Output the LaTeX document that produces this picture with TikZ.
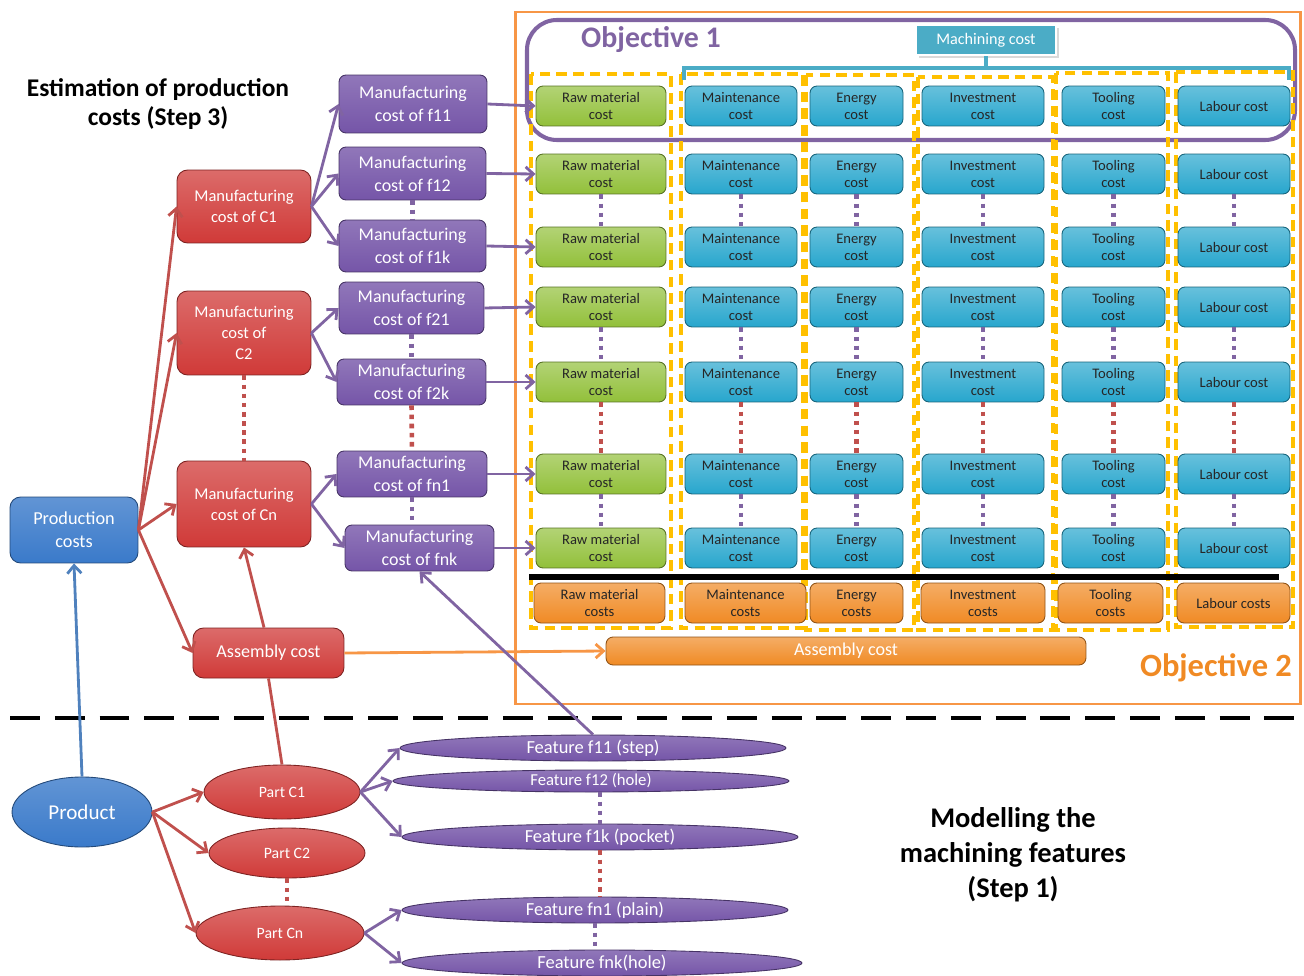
\documentclass[tikz,border=0pt]{standalone}
\usepackage{fontspec}
\setmainfont{Carlito}
\usetikzlibrary{shapes.geometric, arrows.meta}

\definecolor{cred}{HTML}{D03A38}
\definecolor{cpurple}{HTML}{7555A8}
\definecolor{cgreen}{HTML}{92C03A}
\definecolor{cteal}{HTML}{27A6CD}
\definecolor{corange}{HTML}{F08A24}
\definecolor{cblue}{HTML}{3A7ACA}
\definecolor{lred}{HTML}{C0504D}
\definecolor{lpurple}{HTML}{8064A2}
\definecolor{lblue}{HTML}{4F81BD}
\definecolor{lorange}{HTML}{F79646}
\definecolor{lyellow}{HTML}{FFC000}
\definecolor{lteal}{HTML}{4BACC6}

\tikzset{
  costbox/.style={draw, rounded corners=4pt, line width=0.5pt, align=center, inner sep=0pt},
  redbox/.style={costbox, rounded corners=6pt, draw=cred!60!black, top color=cred!75!white, bottom color=cred, text=white, font=\fontsize{9.4}{12}\selectfont},
  purplebox/.style={costbox, draw=cpurple!60!black, top color=cpurple!80!white, bottom color=cpurple, text=white, font=\fontsize{10.2}{13}\selectfont},
  bluebox/.style={costbox, rounded corners=6pt, draw=cblue!60!black, top color=cblue!80!white, bottom color=cblue, text=white, font=\fontsize{10.4}{13}\selectfont},
  gridbox/.style={costbox, minimum height=0.8cm, text=black!85, font=\fontsize{8.3}{9.8}\selectfont},
  greenbox/.style={gridbox, draw=cgreen!60!black, top color=cgreen!70!white, bottom color=cgreen},
  tealbox/.style={gridbox, draw=cteal!60!black, top color=cteal!70!white, bottom color=cteal},
  orangebox/.style={gridbox, draw=corange!60!black, top color=corange!70!white, bottom color=corange},
  oval/.style={ellipse, draw, line width=0.5pt, inner sep=0pt, text=white},
  redoval/.style={oval, draw=cred!60!black, top color=cred!75!white, bottom color=cred, font=\fontsize{9}{11}\selectfont},
  purpleoval/.style={oval, draw=cpurple!60!black, top color=cpurple!80!white, bottom color=cpurple, font=\fontsize{10.5}{12}\selectfont},
  arr/.style={-{Straight Barb[length=4.5pt,width=8pt]}, line width=1.6pt},
  vdots/.style={line width=2.6pt, dash pattern=on 2.6pt off 2.6pt},
  column/.style={draw=lyellow, line width=2.2pt, dash pattern=on 6pt off 3.5pt},
  heading/.style={align=center, font=\bfseries\fontsize{14.5}{17}\selectfont}
}

\begin{document}
\begin{tikzpicture}[x=0.02cm, y=-0.02cm]
\useasboundingbox (0,0) rectangle (1304,976);

\node[heading] (est) at (158,104) {Estimation of production\\costs (Step 3)};
\node[heading, font=\bfseries\fontsize{16.2}{20}\selectfont] (model) at (1013,855) {Modelling the\\machining features\\(Step 1)};

% frames of the two objectives
\draw[lorange, line width=1.7pt] (515,12) rectangle (1300,704);
\draw[lpurple, line width=2.3pt, rounded corners=17pt] (527,20) rectangle (1295,140);
\node[text=lpurple, font=\bfseries\fontsize{17}{20}\selectfont] (obj1) at (651,40) {Objective 1};
\node[text=corange, font=\bfseries\fontsize{18.5}{22}\selectfont] (obj2) at (1216,668) {Objective 2};

\draw[column] (531,74) rectangle (671,628);
\draw[column] (681,74) rectangle (803,628);
\draw[column] (806,75) rectangle (914,630);
\draw[column] (918,77) rectangle (1053,630);
\draw[column] (1056,73) rectangle (1168,630);
\draw[column] (1176,72) rectangle (1293,627);

\fill[black!15] (919,28) rectangle (1059,58);
\node[fill=lteal, draw=white, line width=1.5pt, minimum width=2.8cm, minimum height=0.6cm, text=white, font=\fontsize{9.2}{11}\selectfont] (mach) at (986,40) {Machining cost};
\coordinate (bl) at (684,80);
\coordinate (br) at (1289,80);
\draw[lteal, line width=2.3pt] (mach.south) -- (mach.south |- 0,68);
\draw[lteal, line width=2.3pt] (bl) -- (bl |- 0,68) -- (br |- 0,68) -- (br);

\foreach \r/\y in {1/106,2/174,3/247,4/307,5/382,6/474,7/548}{
  \node[greenbox, minimum width=2.6cm] (rm\r) at (601,\y) {Raw material\\cost};
  \node[tealbox, minimum width=2.24cm] (mt\r) at (741,\y) {Maintenance\\cost};
  \node[tealbox, minimum width=1.86cm] (en\r) at (856.5,\y) {Energy\\cost};
  \node[tealbox, minimum width=2.44cm] (iv\r) at (983,\y) {Investment\\cost};
  \node[tealbox, minimum width=2.06cm] (tl\r) at (1113.5,\y) {Tooling\\cost};
  \node[tealbox, minimum width=2.24cm] (lb\r) at (1234,\y) {Labour cost};
}
\foreach \c in {rm,mt,en,iv,tl,lb}{
  \draw[vdots, lpurple] (\c2.south) -- (\c3.north);
  \draw[vdots, lpurple] (\c4.south) -- (\c5.north);
  \draw[vdots, lred] (\c5.south) -- (\c6.north);
  \draw[vdots, lpurple] (\c6.south) -- (\c7.north);
}

\draw[black, line width=3.3pt] (529,577) -- (1279,577);

\node[orangebox, minimum width=2.62cm] (rmsum) at (599.5,603) {Raw material\\costs};
\node[orangebox, minimum width=2.42cm] (mtsum) at (745.5,603) {Maintenance\\costs};
\node[orangebox, minimum width=1.86cm] (ensum) at (856.5,603) {Energy\\costs};
\node[orangebox, minimum width=2.48cm] (ivsum) at (983,603) {Investment\\costs};
\node[orangebox, minimum width=2.1cm] (tlsum) at (1110.5,603) {Tooling\\costs};
\node[orangebox, minimum width=2.26cm] (lbsum) at (1233.5,603) {Labour costs};
\node[orangebox, minimum width=9.6cm, minimum height=0.56cm, text=white, font=\fontsize{10.3}{12}\selectfont] (asmbar) at (846,651) {Assembly cost};

% step 3
\node[bluebox, minimum width=2.56cm, minimum height=1.32cm] (prod) at (74,530) {Production\\costs};
\node[redbox, minimum width=2.68cm, minimum height=1.46cm] (mC1) at (244,206.5) {Manufacturing\\cost of C1};
\node[redbox, minimum width=2.68cm, minimum height=1.68cm] (mC2) at (244,333) {Manufacturing\\cost of\\C2};
\node[redbox, minimum width=2.68cm, minimum height=1.72cm] (mCn) at (244,504) {Manufacturing\\cost of Cn};
\node[redbox, minimum width=3.02cm, minimum height=1cm, font=\fontsize{10.3}{12}\selectfont] (asm) at (268.5,653) {Assembly cost};

\node[purplebox, minimum width=2.96cm, minimum height=1.16cm] (f11) at (413,104) {Manufacturing\\cost of f11};
\node[purplebox, minimum width=2.94cm, minimum height=1.06cm] (f12) at (412.5,173.5) {Manufacturing\\cost of f12};
\node[purplebox, minimum width=2.94cm, minimum height=1.04cm] (f1k) at (412.5,246) {Manufacturing\\cost of f1k};
\node[purplebox, minimum width=2.9cm, minimum height=1.04cm] (f21) at (411.5,308) {Manufacturing\\cost of f21};
\node[purplebox, minimum width=2.98cm, minimum height=0.92cm] (f2k) at (411.5,382) {Manufacturing\\cost of f2k};
\node[purplebox, minimum width=3cm, minimum height=0.92cm] (fn1) at (412,474) {Manufacturing\\cost of fn1};
\node[purplebox, minimum width=2.98cm, minimum height=0.92cm] (fnk) at (419.5,548) {Manufacturing\\cost of fnk};

\draw[vdots, lred] (mC2.south) -- (mCn.north);
\draw[vdots, lpurple] (f12.south) -- (f1k.north);
\draw[vdots, lpurple] (f21.south) -- (f2k.north);
\draw[vdots, lred] (f2k.south) -- (fn1.north);
\draw[vdots, lpurple] (fn1.south) -- (fn1.south |- fnk.north);

\draw[arr, lred] (prod.east) -- (mC1.west);
\draw[arr, lred] (prod.east) -- (mC2.west);
\draw[arr, lred] (prod.east) -- (mCn.west);
\draw[arr, lred] (prod.east) -- (asm.west);
\draw[arr, lred] (asm.100) -- (mCn.south);
\draw[arr, lpurple] (mC1.east) -- (f11.west);
\draw[arr, lpurple] (mC1.east) -- (f12.west);
\draw[arr, lpurple] (mC1.east) -- (f1k.west);
\draw[arr, lpurple] (mC2.east) -- (f21.west);
\draw[arr, lpurple] (mC2.east) -- (f2k.west);
\draw[arr, lpurple] (mCn.east) -- (fn1.west);
\draw[arr, lpurple] (mCn.east) -- (fnk.west);
\draw[arr, lpurple] (f11.east) -- (rm1.west);
\draw[arr, lpurple] (f12.east) -- (rm2.west);
\draw[arr, lpurple] (f1k.east) -- (rm3.west);
\draw[arr, lpurple] (f21.east) -- (rm4.west);
\draw[arr, lpurple] (f2k.east) -- (rm5.west);
\draw[arr, lpurple] (fn1.east) -- (rm6.west);
\draw[arr, lpurple] (fnk.east) -- (rm7.west);
\draw[arr, lorange] (asm.east) -- (asmbar.west);

\draw[black, line width=2.8pt, dash pattern=on 17pt off 8.5pt] (10,718) -- (1300,718);

% step 1
\node[oval, draw=cblue!60!black, top color=cblue!80!white, bottom color=cblue, minimum width=2.8cm, minimum height=1.4cm, font=\fontsize{12}{14}\selectfont] (product) at (82,812) {Product};
\node[redoval, minimum width=3.12cm, minimum height=1.08cm] (pC1) at (282,792) {Part C1};
\node[redoval, minimum width=3.12cm, minimum height=1cm] (pC2) at (287,853) {Part C2};
\node[redoval, minimum width=3.36cm, minimum height=1.08cm] (pCn) at (280,933) {Part Cn};

\node[purpleoval, minimum width=7.72cm, minimum height=0.52cm] (ft11) at (593,748) {Feature f11 (step)};
\node[purpleoval, minimum width=7.92cm, minimum height=0.44cm, font=\fontsize{9.5}{11}\selectfont] (ft12) at (591,781) {Feature f12 (hole)};
\node[purpleoval, minimum width=7.92cm, minimum height=0.52cm] (ft1k) at (600,837) {Feature f1k (pocket)};
\node[purpleoval, minimum width=7.72cm, minimum height=0.52cm] (ftn1) at (595,910) {Feature fn1 (plain)};
\node[purpleoval, minimum width=8cm, minimum height=0.52cm] (ftnk) at (602,963) {Feature fnk(hole)};

\draw[vdots, lred] (pC2.south) -- (pC2.south |- pCn.north);
\draw[vdots, lpurple] (ft12.south -| ft1k.south) -- (ft1k.north);
\draw[vdots, lred] (ft1k.south) -- (ft1k.south |- ftn1.north);
\draw[vdots, lpurple] (ftn1.south) -- (ftn1.south |- ftnk.north);

\draw[arr, lblue] (product.north) -- (prod.south);
\draw[lred, line width=1.6pt] (pC1.north) -- (asm.south);
\draw[arr, lred] (product.east) -- (pC1.west);
\draw[arr, lred] (product.east) -- (pC2.west);
\draw[arr, lred] (product.east) -- (pCn.west);
\draw[arr, lpurple] (pC1.east) -- (ft11.west);
\draw[arr, lpurple] (pC1.east) -- (ft12.west);
\draw[arr, lpurple] (pC1.east) -- (ft1k.west);
\draw[arr, lpurple] (pCn.east) -- (ftn1.west);
\draw[arr, lpurple] (pCn.east) -- (ftnk.west);
\draw[arr, lpurple] (ft11.north) -- (fnk.south);
\end{tikzpicture}
\end{document}
